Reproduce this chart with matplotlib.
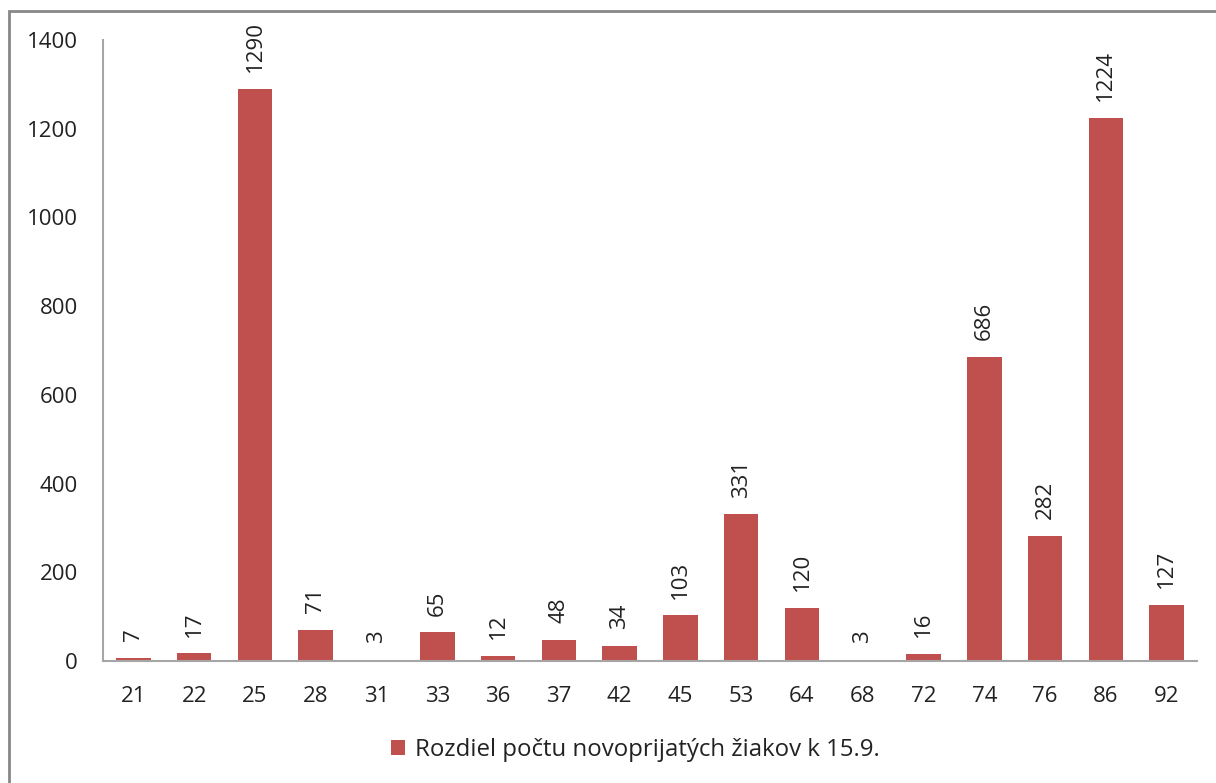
import matplotlib.pyplot as plt
from matplotlib.patches import Rectangle

# odbory a rozdiel poctu ziakov
KODY = ["21", "22", "25", "28", "31", "33", "36", "37", "42", "45",
        "53", "64", "68", "72", "74", "76", "86", "92"]
HODNOTY = [7, 17, 1290, 71, 3, 65, 12, 48, 34, 103,
           331, 120, 3, 16, 686, 282, 1224, 127]
LEGENDA = "Rozdiel počtu novoprijatých žiakov k 15.9."

W, H = 1216, 783
BAR_COLOR = "#C0504D"
AXIS_COLOR = "#A6A6A6"
FS = 16

plt.rcParams["font.family"] = ["Open Sans", "DejaVu Sans"]


def main():
    fig = plt.figure(figsize=(W / 100, H / 100), dpi=100)
    ax = fig.add_axes([103 / W, 1 - 661 / H, (1197 - 103) / W, (661 - 40) / H])

    x = range(len(KODY))
    bars = ax.bar(x, HODNOTY, width=0.57, color=BAR_COLOR, label=LEGENDA)
    for b, v in zip(bars, HODNOTY):
        ax.annotate(str(v), (b.get_x() + b.get_width() / 2, v),
                    xytext=(0, 12), textcoords="offset points",
                    rotation=90, ha="center", va="bottom", fontsize=FS, color="#222222")

    ax.set_xlim(-0.5, len(KODY) - 0.5)
    ax.set_ylim(0, 1400)
    ax.set_yticks(range(0, 1401, 200))
    ax.set_xticks(list(x))
    ax.set_xticklabels(KODY)
    ax.tick_params(axis="both", length=0, labelsize=FS, labelcolor="#222222")
    ax.tick_params(axis="y", pad=18)
    ax.tick_params(axis="x", pad=18)

    for s in ["top", "right"]:
        ax.spines[s].set_visible(False)
    for s in ["left", "bottom"]:
        ax.spines[s].set_color(AXIS_COLOR)
        ax.spines[s].set_linewidth(1.5)

    fig.legend(loc="center", bbox_to_anchor=(635 / W, 1 - 750 / H), frameon=False,
               fontsize=17.3, handlelength=0.6, handleheight=0.6, handletextpad=0.4,
               labelcolor="#222222")

    # ram okolo grafu
    fig.patches.append(Rectangle((9 / W, -0.1), 1.2, 1 - 11 / H + 0.1,
                                 transform=fig.transFigure, fill=False,
                                 edgecolor="#878787", linewidth=2))

    plt.savefig("out.png", dpi=100)


if __name__ == "__main__":
    main()
